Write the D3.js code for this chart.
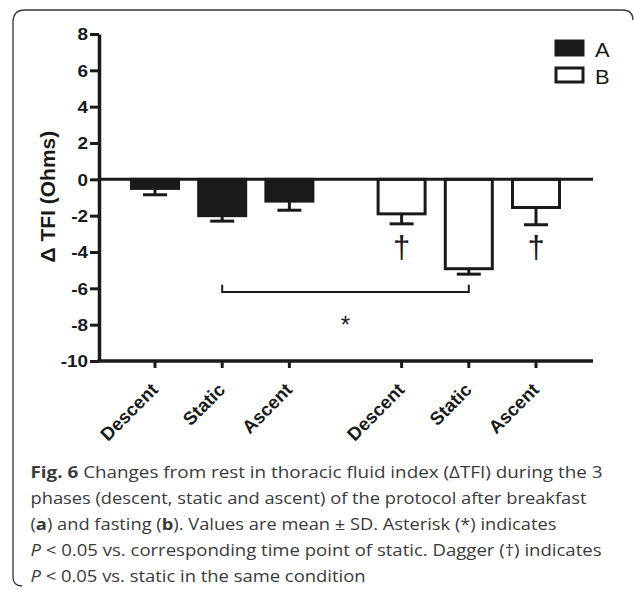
<!DOCTYPE html>
<html>
<head>
<meta charset="utf-8">
<script src="https://cdn.jsdelivr.net/npm/d3@7"></script>
<style>
  body { margin: 0; background: #fff; }
  svg text { font-family: "Liberation Sans", Arial, sans-serif; }
  .caption { font-family: "Open Sans", "Noto Sans", sans-serif; fill: #3a3a3a; font-size: 16px; }
</style>
</head>
<body>
<svg id="chart" width="634" height="596"></svg>
<script>
// data
const phases = ["Descent", "Static", "Ascent", "Descent", "Static", "Ascent"]
const groups = ["A", "A", "A", "B", "B", "B"]
const slot = [0, 1, 2, 3.67, 4.67, 5.67]
const means = [-0.5, -2.0, -1.2, -1.9, -4.92, -1.55]
const sds = [0.35, 0.3, 0.5, 0.55, 0.3, 0.95]
const dagger = [false, false, false, true, false, true]
const y_ticks = [8, 6, 4, 2, 0, -2, -4, -6, -8, -10]
const legend_labels = ["A", "B"]
const caption_lines = [
  [["Fig. 6", true], [" Changes from rest in thoracic fluid index (ΔTFI) during the 3", false]],
  [["phases (descent, static and ascent) of the protocol after breakfast", false]],
  [["(", false], ["a", true], [") and fasting (", false], ["b", true], ["). Values are mean ± SD. Asterisk (*) indicates", false]],
  [["P", "i"], [" < 0.05 vs. corresponding time point of static. Dagger (†) indicates", false]],
  [["P", "i"], [" < 0.05 vs. static in the same condition", false]]
]
// rendered width of each caption line
const caption_widths = [572, 556, 526, 571, 335]

const svg = d3.select("#chart")

// the picture is a bit wide, so text is stretched sideways to match
function widen(sel, k) {
  sel.each(function () {
    const w = this.getComputedTextLength()
    d3.select(this).attr("textLength", w * k).attr("lengthAdjust", "spacingAndGlyphs")
  })
}

// frame
svg.append("path")
  .attr("d", "M22,586 Q13,586 13,577 V22 Q13,10 25,10 H622 Q633,10 633,20")
  .attr("fill", "none").attr("stroke", "#333").attr("stroke-width", 1.3)

const x0 = 99, x1 = 593
const y = d3.scaleLinear().domain([-10, 8]).range([361, 34])
const x = d3.scaleLinear().domain([0, 5.67]).range([155, 536])
const bar_w = 47

// y axis
const yAxis = svg.append("g").attr("transform", `translate(${x0},0)`)
  .call(d3.axisLeft(y).tickValues(y_ticks).tickFormat(d => String(d))
    .tickSize(9).tickPadding(2).tickSizeOuter(0))
yAxis.select(".domain").attr("stroke", "#1a1a1a").attr("stroke-width", 3.5)
yAxis.selectAll(".tick line").attr("stroke", "#1a1a1a").attr("stroke-width", 3)
yAxis.selectAll(".tick text").attr("font-size", 16).attr("font-weight", "bold")
  .attr("fill", "#1a1a1a").attr("dy", "0.36em")
  .call(widen, 1.18)

// x axis at bottom
svg.append("line").attr("x1", x0 - 1.5).attr("x2", x1).attr("y1", y(-10)).attr("y2", y(-10))
  .attr("stroke", "#1a1a1a").attr("stroke-width", 3.5)
svg.selectAll("line.xtick").data(slot).enter().append("line")
  .classed("xtick", true)
  .attr("x1", d => x(d)).attr("x2", d => x(d))
  .attr("y1", y(-10)).attr("y2", y(-10) + 7)
  .attr("stroke", "#1a1a1a").attr("stroke-width", 3)
svg.selectAll("text.xlab").data(phases).enter().append("text")
  .classed("xlab", true)
  .text(d => d)
  .attr("text-anchor", "end")
  .attr("font-size", 18.5).attr("font-weight", "bold").attr("fill", "#1a1a1a")
  .attr("transform", (d, i) => `translate(${x(slot[i]) + 4},${y(-10) + 30}) rotate(-45)`)

// bars
const bars = svg.append("g")
bars.selectAll("rect").data(means).enter().append("rect")
  .attr("x", (d, i) => x(slot[i]) - bar_w / 2)
  .attr("width", bar_w)
  .attr("y", y(0))
  .attr("height", d => y(d) - y(0))
  .attr("fill", (d, i) => groups[i] == "A" ? "#1a1a1a" : "#fff")
  .attr("stroke", "#1a1a1a").attr("stroke-width", 3)

// error bars (downward only)
const err = svg.append("g").attr("stroke", "#1a1a1a").attr("stroke-width", 3)
means.forEach((m, i) => {
  const cx = x(slot[i])
  err.append("line").attr("x1", cx).attr("x2", cx).attr("y1", y(m)).attr("y2", y(m - sds[i]))
  err.append("line").attr("x1", cx - 12).attr("x2", cx + 12).attr("y1", y(m - sds[i])).attr("y2", y(m - sds[i]))
})

// zero line
svg.append("line").attr("x1", x0).attr("x2", x1).attr("y1", y(0)).attr("y2", y(0))
  .attr("stroke", "#1a1a1a").attr("stroke-width", 3)

// daggers
svg.selectAll("text.dagger").data(slot.filter((d, i) => dagger[i])).enter().append("text")
  .classed("dagger", true)
  .text("†")
  .attr("x", d => x(d)).attr("y", y(-4.35))
  .attr("text-anchor", "middle").attr("font-size", 31).attr("fill", "#1a1a1a")

// significance bracket between static A and static B
const bx1 = x(slot[1]), bx2 = x(slot[4])
svg.append("path")
  .attr("d", `M${bx1},${y(-5.8)} V${y(-6.2)} H${bx2} V${y(-5.8)}`)
  .attr("fill", "none").attr("stroke", "#1a1a1a").attr("stroke-width", 2)
svg.append("text").text("*")
  .attr("x", (bx1 + bx2) / 2).attr("y", y(-8.45))
  .attr("text-anchor", "middle").attr("font-size", 24).attr("fill", "#1a1a1a")

// y label
svg.append("text").text("Δ TFI (Ohms)")
  .attr("transform", `translate(55,${y(-0.95)}) rotate(-90)`)
  .attr("text-anchor", "middle").attr("font-size", 21).attr("font-weight", "bold").attr("fill", "#1a1a1a")

// legend
const leg = svg.append("g")
leg.selectAll("rect").data(legend_labels).enter().append("rect")
  .attr("x", 556).attr("y", (d, i) => 41 + i * 27)
  .attr("width", 27).attr("height", 14)
  .attr("fill", (d, i) => i == 0 ? "#1a1a1a" : "#fff")
  .attr("stroke", "#1a1a1a").attr("stroke-width", 3)
leg.selectAll("text").data(legend_labels).enter().append("text")
  .text(d => d)
  .attr("x", 595).attr("y", (d, i) => 56.5 + i * 27)
  .attr("font-size", 19.5).attr("fill", "#1a1a1a")
  .call(widen, 1.12)

// caption
const cap = svg.append("g")
caption_lines.forEach((parts, i) => {
  const t = cap.append("text").classed("caption", true)
    .attr("x", 30.5).attr("y", 478 + i * 26)
    .attr("textLength", caption_widths[i]).attr("lengthAdjust", "spacingAndGlyphs")
  parts.forEach(p => {
    const s = t.append("tspan").text(p[0])
    if (p[1] === true) s.attr("font-weight", "bold")
    if (p[1] === "i") s.attr("font-style", "italic")
  })
})
</script>
</body>
</html>
